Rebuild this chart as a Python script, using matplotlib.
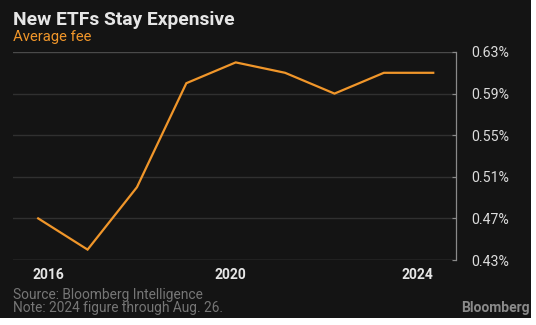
import matplotlib
matplotlib.use("Agg")
import matplotlib.pyplot as plt
from matplotlib.patches import Rectangle

years = [2016, 2017, 2018, 2019, 2020, 2021, 2022, 2023, 2024]
avg_fee = [0.47, 0.44, 0.50, 0.60, 0.62, 0.61, 0.59, 0.61, 0.61]
y_ticks = [0.43, 0.47, 0.51, 0.55, 0.59, 0.63]
x_tick_labels = ['2016', '2020', '2024']
x_tick_pos = [2016.2, 2019.9, 2023.68]

BG = '#141414'
ORANGE = '#f0962a'
plt.rcParams['font.family'] = ['Roboto', 'DejaVu Sans']

W, H = 536, 325
fig = plt.figure(figsize=(W / 100, H / 100), dpi=100, facecolor='white')
fig.patches.append(Rectangle((0, 7 / H), 531 / W, 1 - 7 / H, transform=fig.transFigure,
                             facecolor=BG, edgecolor='none', zorder=-10))

ax = fig.add_axes([13 / W, (H - 260) / H, (453 - 13) / W, (260 - 52) / H])
ax.set_facecolor(BG)
ax.plot(years, avg_fee, color=ORANGE, lw=1.6, solid_joinstyle='miter', zorder=3)
ax.set_xlim(2015.49, 2024.4)
ax.set_ylim(0.43, 0.63)

for v in y_ticks:
    if v == 0.63:
        c = '#4a4a4a'
    elif v == 0.43:
        c = '#5a5a5a'
    else:
        c = '#303030'
    ax.axhline(v, color=c, lw=1.0, zorder=1)

for s in ['top', 'left', 'bottom']:
    ax.spines[s].set_visible(False)
ax.spines['right'].set_color('#8a8a8a')
ax.spines['right'].set_linewidth(0.9)
ax.spines['right'].set_position(('outward', 2.2))

ax.yaxis.tick_right()
ax.set_yticks(y_ticks)
ax.set_yticklabels([f'{v:.2f}%' for v in y_ticks])
ax.tick_params(axis='y', direction='in', length=3, width=0.9, color='#8a8a8a',
               labelcolor='#dcdcdc', labelsize=10.2, pad=11)

ax.set_xticks(x_tick_pos)
ax.set_xticklabels(x_tick_labels)
ax.tick_params(axis='x', length=0, labelcolor='#e6e6e6', labelsize=10, pad=6)
for t in ax.get_xticklabels():
    t.set_fontweight('bold')

fig.text(13 / W, 1 - 25 / H, 'New ETFs Stay Expensive', color='#e6e6e6',
         fontsize=13.9, fontweight='bold', va='baseline', ha='left')
fig.text(13 / W, 1 - 41 / H, 'Average fee', color=ORANGE,
         fontsize=10.7, va='baseline', ha='left')
fig.text(13 / W, 1 - 299 / H, 'Source: Bloomberg Intelligence', color='#767676',
         fontsize=9.9, va='baseline', ha='left')
fig.text(13 / W, 1 - 312 / H, 'Note: 2024 figure through Aug. 26.', color='#767676',
         fontsize=9.9, va='baseline', ha='left')
fig.text(530 / W, 1 - 312 / H, 'Bloomberg', color='#8a8a8a',
         fontsize=10, fontweight='bold', va='baseline', ha='right')

fig.savefig('out.png', dpi=100, facecolor=fig.get_facecolor())
